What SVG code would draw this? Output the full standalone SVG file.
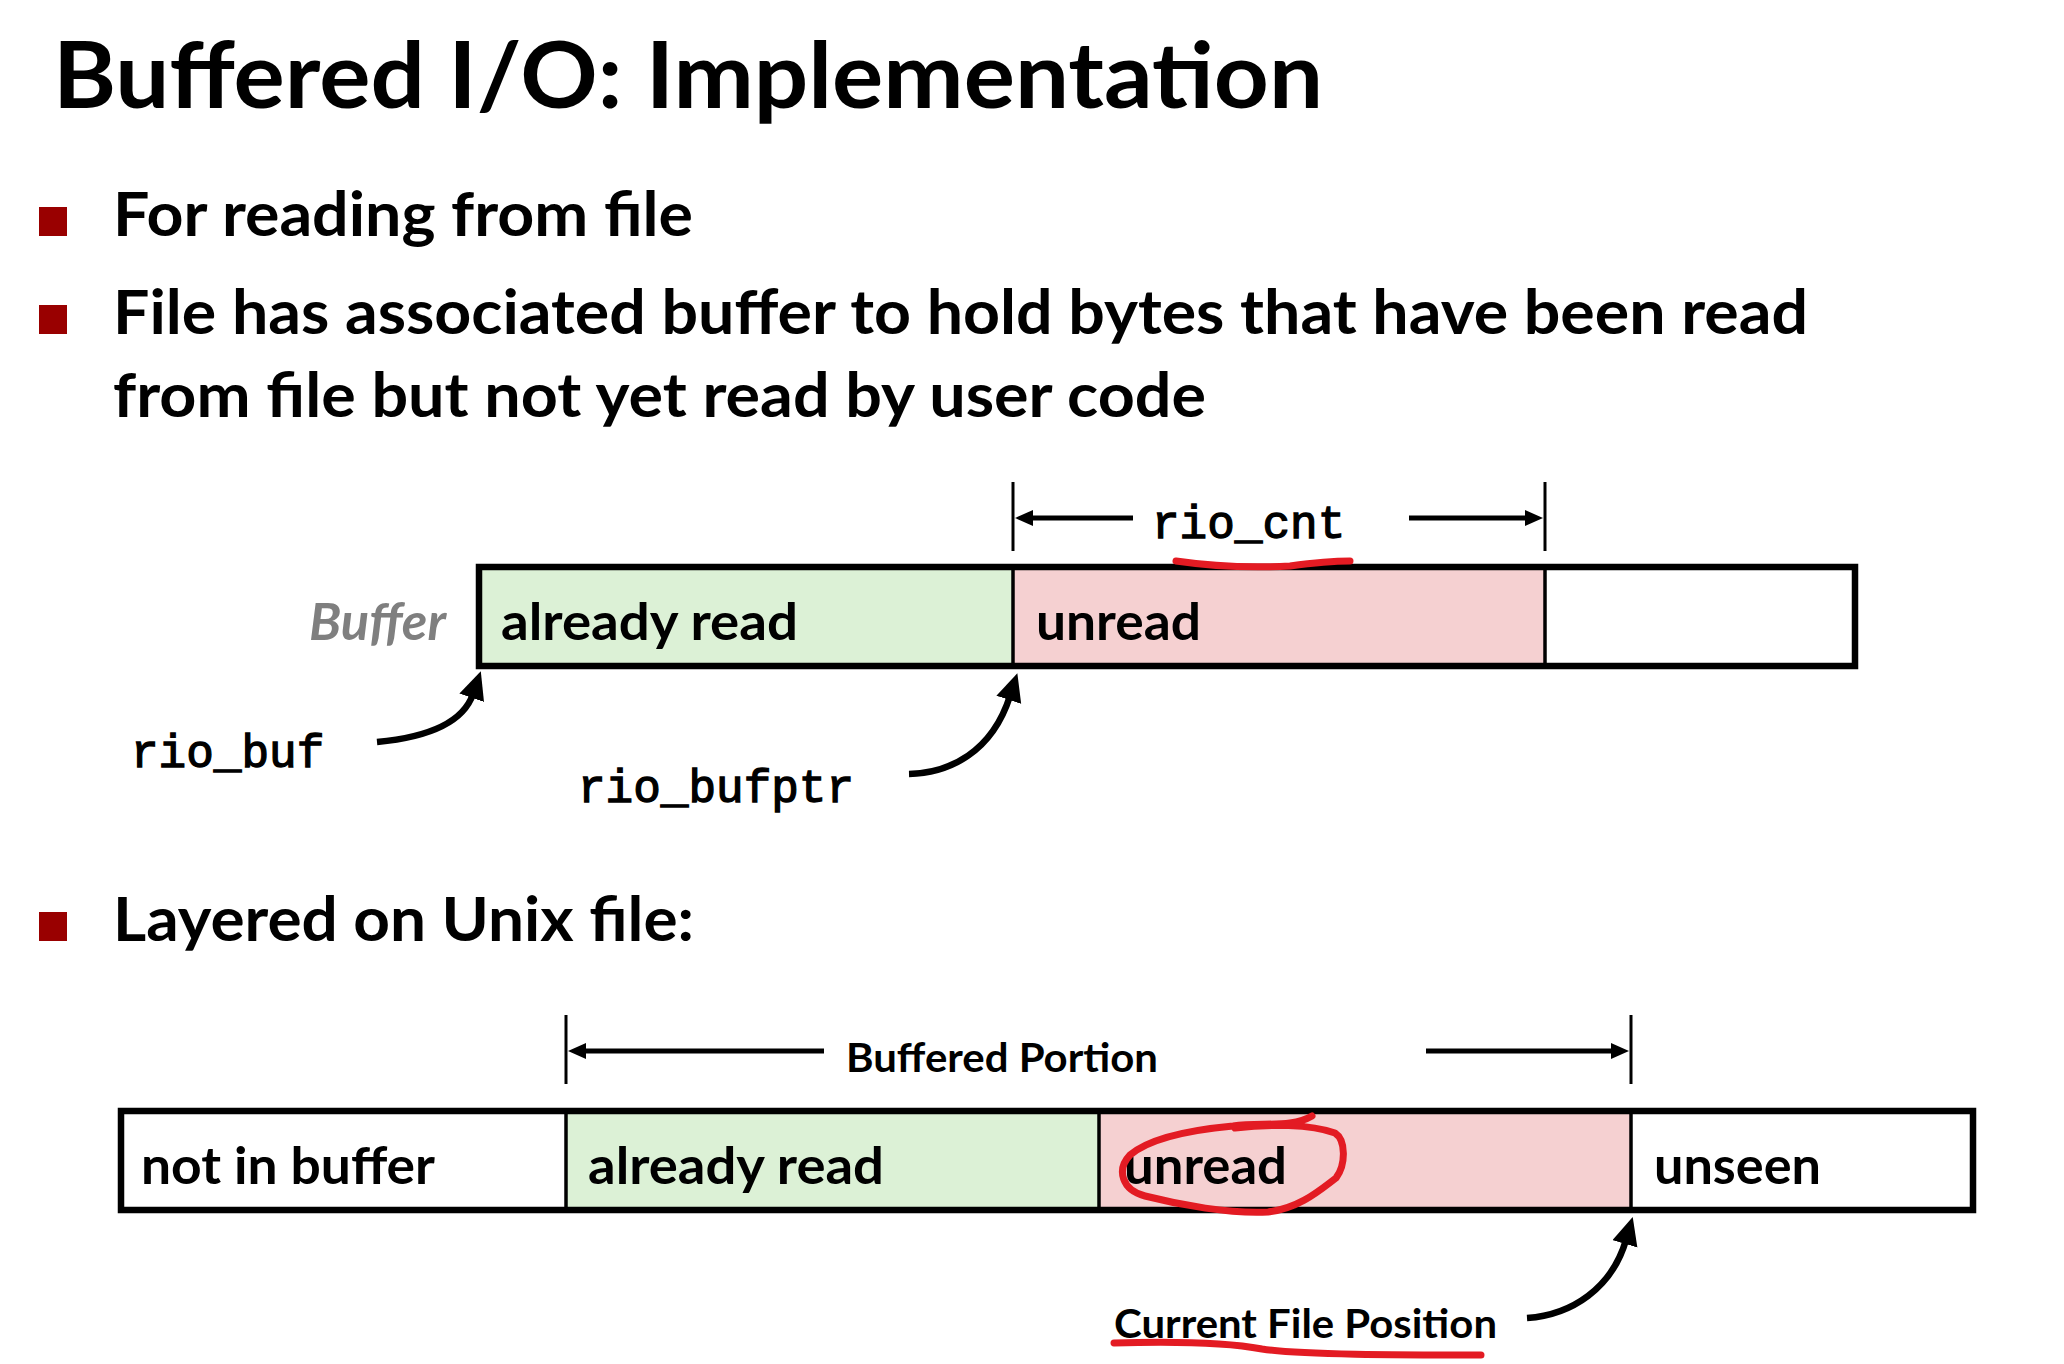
<svg xmlns="http://www.w3.org/2000/svg" width="2064" height="1364" viewBox="0 0 2064 1364">
<style>
.sans{font-family:Lato,"Open Sans","Liberation Sans",sans-serif;font-weight:bold;fill:#000}
.title{font-size:92px}
.bul{font-size:61px}
.lbl{font-size:51px}
.sm{font-size:40px}
.mono{font-family:"Liberation Mono","DejaVu Sans Mono",monospace;font-weight:normal;font-size:46px;fill:#000;stroke:#000;stroke-width:1.3}
.buf{font-family:Lato,"Open Sans",sans-serif;font-style:italic;font-weight:bold;font-size:52px;fill:#7f7f7f}
.sq{fill:#990000}
.green{fill:#dcf1d6}
.pink{fill:#f5d0d1}
.frame{fill:none;stroke:#000;stroke-width:6.5}
.div{stroke:#000;stroke-width:3.5}
.tick{stroke:#000;stroke-width:3}
.dim{stroke:#000;stroke-width:5;fill:none}
.curve{stroke:#000;stroke-width:6.5;fill:none}
.red{stroke:#e31b23;stroke-width:7;fill:none;stroke-linecap:round;stroke-linejoin:round}
</style>
<defs>
<marker id="dh" markerUnits="userSpaceOnUse" markerWidth="20" markerHeight="18" refX="2" refY="8" orient="auto">
<path d="M0,0 L18,8 L0,16 z" fill="#000"/>
</marker>
<marker id="ch" markerUnits="userSpaceOnUse" markerWidth="30" markerHeight="28" refX="4" refY="13" orient="auto">
<path d="M0,0 L28,13 L0,26 z" fill="#000"/>
</marker>
</defs>
<rect width="2064" height="1364" fill="#fff"/>

<g id="title">
<text class="sans title" x="53" y="108" textLength="1270" lengthAdjust="spacingAndGlyphs">Buffered I/O: Implementation</text>
</g>

<g id="bullets">
<rect class="sq" x="39" y="207" width="28" height="29"/>
<text class="sans bul" x="113" y="236" textLength="580" lengthAdjust="spacingAndGlyphs">For reading from file</text>
<rect class="sq" x="39" y="305" width="28" height="29"/>
<text class="sans bul" x="113" y="334" textLength="1695" lengthAdjust="spacingAndGlyphs">File has associated buffer to hold bytes that have been read</text>
<text class="sans bul" x="113" y="417" textLength="1093" lengthAdjust="spacingAndGlyphs">from file but not yet read by user code</text>
<rect class="sq" x="39" y="912" width="28" height="29"/>
<text class="sans bul" x="113" y="941" textLength="581" lengthAdjust="spacingAndGlyphs">Layered on Unix file:</text>
</g>

<g id="buffer-top">
<rect class="green" x="479" y="567" width="534" height="99"/>
<rect class="pink" x="1013" y="567" width="532" height="99"/>
<line class="div" x1="1013" y1="567" x2="1013" y2="666"/>
<line class="div" x1="1545" y1="567" x2="1545" y2="666"/>
<rect class="frame" x="479" y="567" width="1376" height="99"/>
<text class="buf" x="309" y="640" textLength="137" lengthAdjust="spacingAndGlyphs">Buffer</text>
<text class="sans lbl" x="501" y="640" textLength="297" lengthAdjust="spacingAndGlyphs">already read</text>
<text class="sans lbl" x="1036" y="640" textLength="165" lengthAdjust="spacingAndGlyphs">unread</text>
</g>

<g id="rio-cnt">
<line class="tick" x1="1013" y1="482" x2="1013" y2="551"/>
<line class="tick" x1="1545" y1="482" x2="1545" y2="551"/>
<text class="mono" x="1152" y="538">rio_cnt</text>
</g>

<g id="rio-buf">
<text class="mono" x="131" y="767">rio_buf</text>
</g>

<g id="rio-bufptr">
<text class="mono" x="578" y="802">rio_bufptr</text>
</g>

<g id="file-bottom">
<rect class="green" x="566" y="1111" width="533" height="99"/>
<rect class="pink" x="1099" y="1111" width="532" height="99"/>
<line class="div" x1="566" y1="1111" x2="566" y2="1210"/>
<line class="div" x1="1099" y1="1111" x2="1099" y2="1210"/>
<line class="div" x1="1631" y1="1111" x2="1631" y2="1210"/>
<rect class="frame" x="121" y="1111" width="1852" height="99"/>
<text class="sans lbl" x="141" y="1184" textLength="294" lengthAdjust="spacingAndGlyphs">not in buffer</text>
<text class="sans lbl" x="588" y="1184" textLength="296" lengthAdjust="spacingAndGlyphs">already read</text>
<text class="sans lbl" x="1124" y="1184" textLength="163" lengthAdjust="spacingAndGlyphs">unread</text>
<text class="sans lbl" x="1654" y="1184" textLength="167" lengthAdjust="spacingAndGlyphs">unseen</text>
</g>

<g id="buffered-portion">
<line class="tick" x1="566" y1="1015" x2="566" y2="1084"/>
<line class="tick" x1="1631" y1="1015" x2="1631" y2="1084"/>
<text class="sans sm" x="846" y="1072" textLength="312" lengthAdjust="spacingAndGlyphs">Buffered Portion</text>
</g>

<g id="current-pos">
<text class="sans sm" x="1114" y="1338" textLength="383" lengthAdjust="spacingAndGlyphs">Current File Position</text>
</g>

<g id="connectors">
<path class="dim" d="M1133,518 L1031,518" marker-end="url(#dh)"/>
<path class="dim" d="M1409,518 L1527,518" marker-end="url(#dh)"/>
<path class="dim" d="M824,1051 L584,1051" marker-end="url(#dh)"/>
<path class="dim" d="M1426,1051 L1613,1051" marker-end="url(#dh)"/>
<path class="curve" d="M377,742 C420,738 462,726 473,694" marker-end="url(#ch)"/>
<path class="curve" d="M909,774 C950,773 992,752 1010,696" marker-end="url(#ch)"/>
<path class="curve" d="M1527,1318 C1572,1315 1612,1288 1626,1240" marker-end="url(#ch)"/>
</g>

<g id="annotations">
<path class="red" d="M1176,561 C1210,566 1250,568 1290,566 C1312,563 1330,561 1350,561"/>
<path class="red" d="M1312,1116 C1292,1128 1262,1122 1233,1126 C1190,1130 1150,1138 1130,1155 C1116,1170 1122,1190 1145,1196 C1180,1205 1230,1214 1268,1212 C1300,1208 1320,1190 1336,1178 C1346,1165 1346,1140 1335,1133 C1310,1124 1270,1124 1235,1128" stroke-width="6"/>
<path class="red" d="M1114,1343 C1180,1341 1230,1343 1262,1349 C1300,1355 1400,1355 1481,1355"/>
</g>
</svg>
